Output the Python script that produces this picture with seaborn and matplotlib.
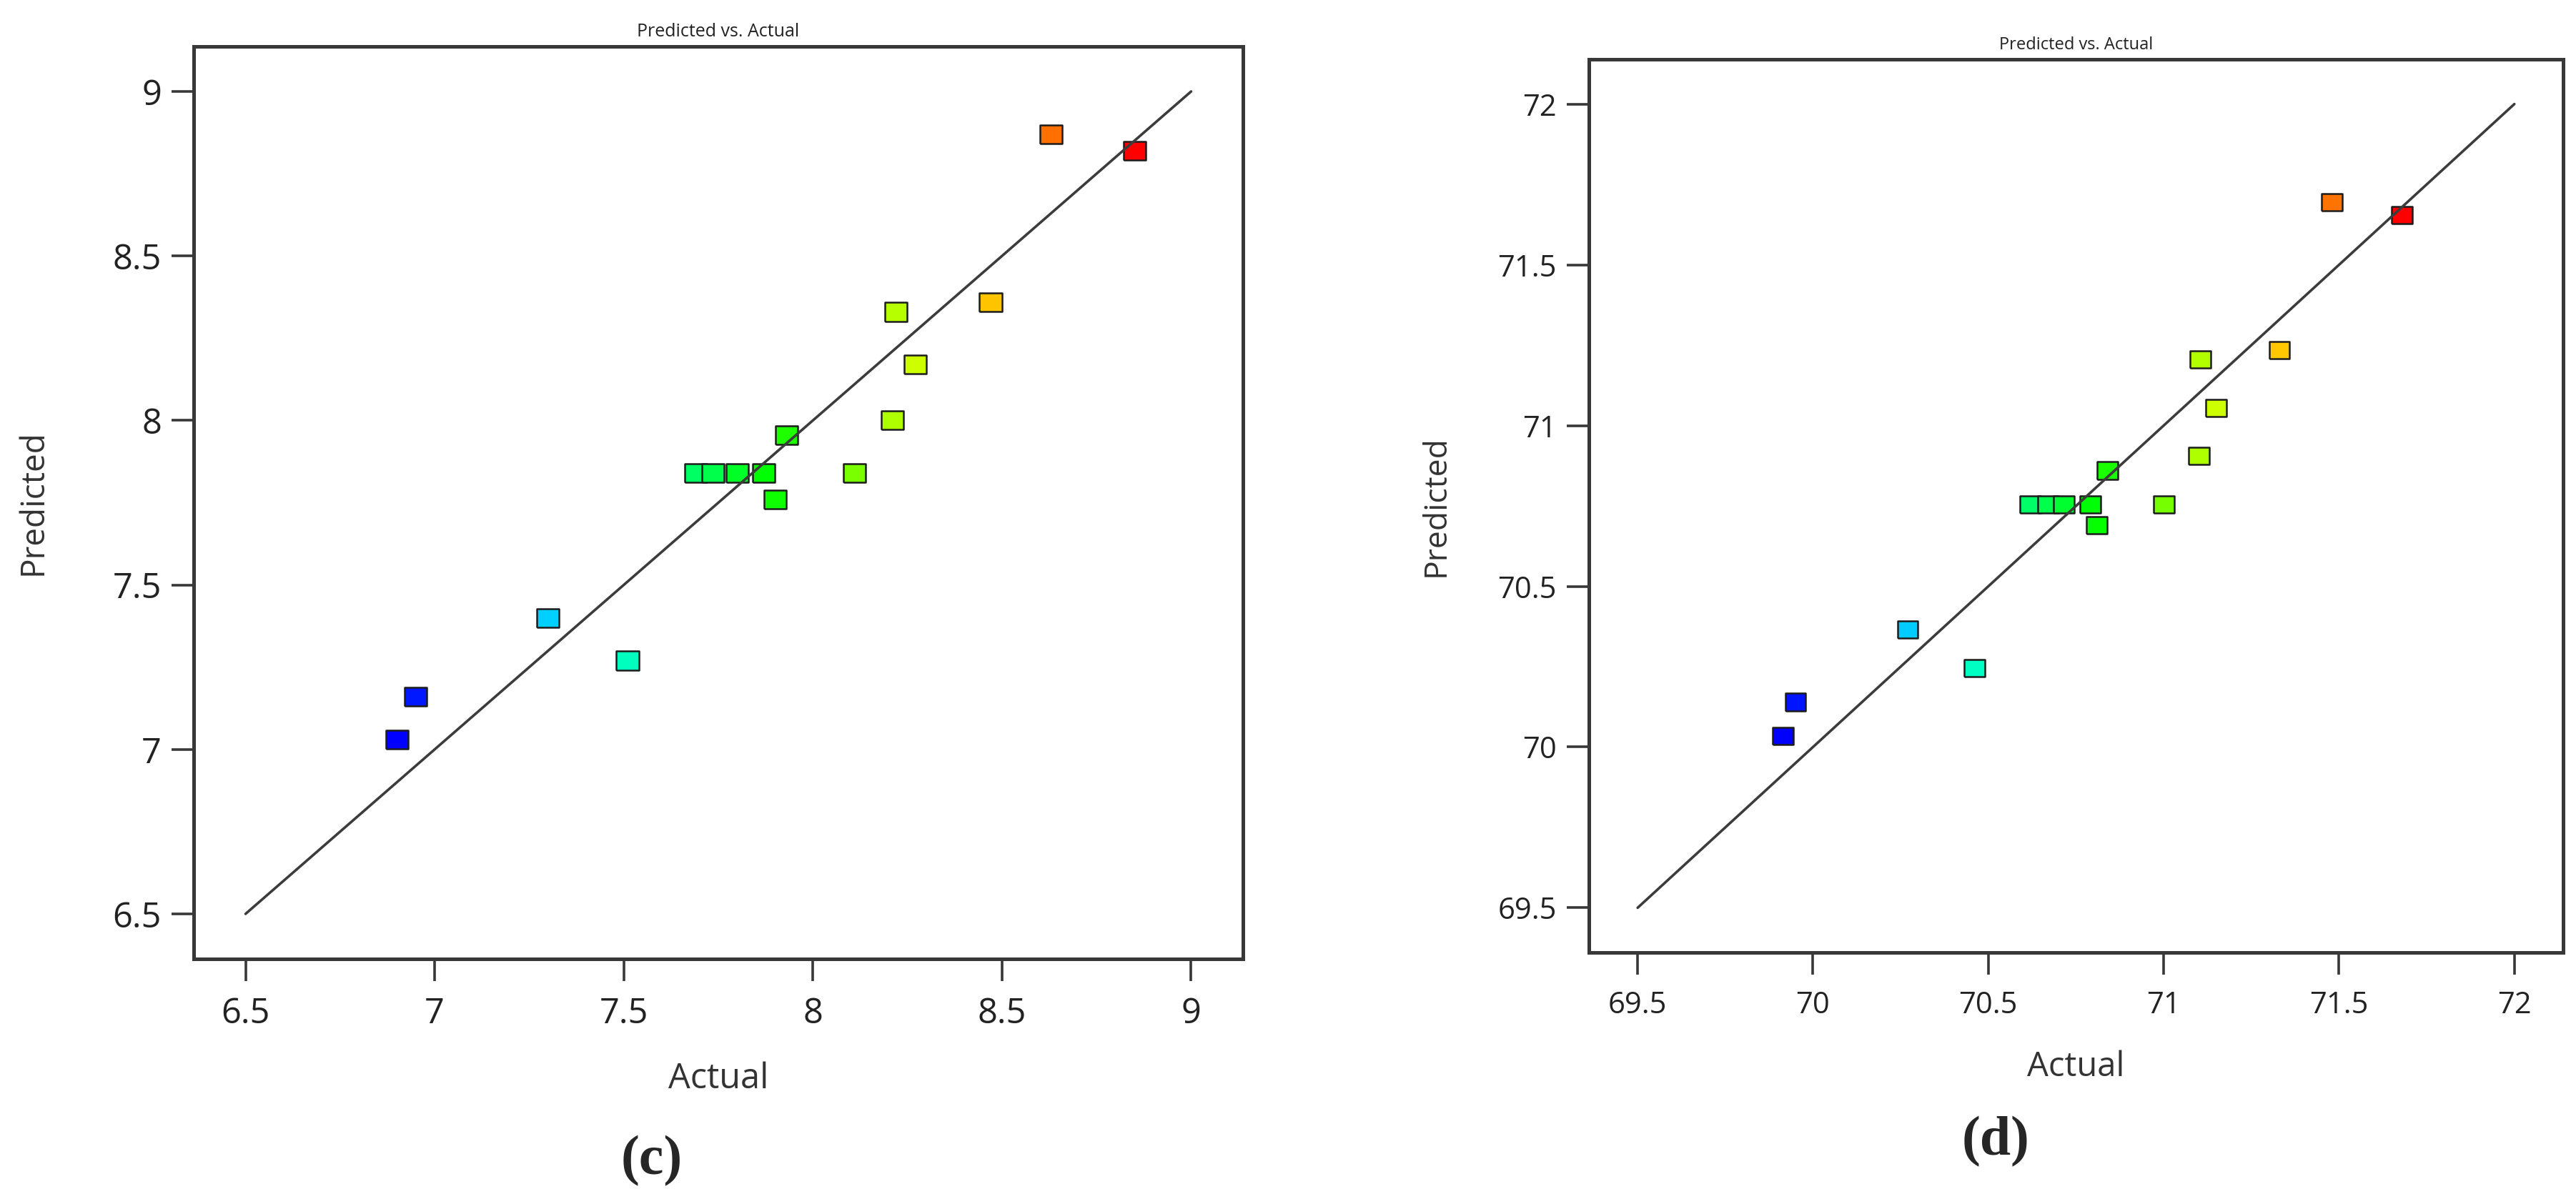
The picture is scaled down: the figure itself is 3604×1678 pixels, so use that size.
import pandas as pd
import matplotlib
matplotlib.use('Agg')
import matplotlib.pyplot as plt
from matplotlib.colors import LinearSegmentedColormap
import seaborn as sns

# panel (c)
actual_c = [6.90, 6.95, 7.30, 7.51, 7.69, 7.735, 7.80, 7.87, 7.90, 7.93, 8.11, 8.21, 8.22, 8.27, 8.47, 8.63, 8.85]
pred_c = [7.03, 7.16, 7.40, 7.27, 7.84, 7.84, 7.84, 7.84, 7.76, 7.955, 7.84, 8.00, 8.33, 8.17, 8.36, 8.87, 8.82]
ticks_c = [6.5, 7, 7.5, 8, 8.5, 9]
labels_c = ['6.5', '7', '7.5', '8', '8.5', '9']
lim_c = (6.363, 9.137)
diag_c = [6.5, 9.0]

# panel (d)
actual_d = [69.915, 69.95, 70.27, 70.46, 70.62, 70.67, 70.715, 70.79, 70.81, 70.84, 71.00, 71.10, 71.105, 71.15, 71.33, 71.48, 71.68]
pred_d = [70.035, 70.14, 70.365, 70.245, 70.755, 70.755, 70.755, 70.755, 70.69, 70.86, 70.755, 70.905, 71.205, 71.055, 71.235, 71.695, 71.655]
ticks_d = [69.5, 70, 70.5, 71, 71.5, 72]
labels_d = ['69.5', '70', '70.5', '71', '71.5', '72']
lim_d = (69.361, 72.139)
diag_d = [69.5, 72.0]

sns.set_style('ticks')
plt.rcParams['font.family'] = ['Open Sans', 'DejaVu Sans']

# blue -> cyan -> green -> yellow -> red, coloured by the actual value
cmap = LinearSegmentedColormap.from_list('rainbow5', ['#0000ff', '#00ffff', '#00ff00', '#ffff00', '#ff0000'])
rect = [(-1, -0.84), (1, -0.84), (1, 0.84), (-1, 0.84), (-1, -0.84)]
ink = '#383838'

fig = plt.figure(figsize=(18.02, 8.39), dpi=200)
ax_c = fig.add_axes([0.0752, 0.2002, 0.4073, 0.7611])
ax_d = fig.add_axes([0.6168, 0.2056, 0.3782, 0.7449])


def panel(ax, actual, pred, ticks, labels, lim, diag, msize, fs_tick, fs_lab, fs_title, ylab_x, xlab_y):
    df = pd.DataFrame({'Actual': actual, 'Predicted': pred})
    sns.scatterplot(data=df, x='Actual', y='Predicted', hue='Actual', palette=cmap,
                    hue_norm=(min(actual), max(actual)), marker=rect, s=msize,
                    edgecolor='#1c1c1c', linewidth=0.9, legend=False, ax=ax, zorder=2)
    ax.plot(diag, diag, color='#3c3c3c', lw=1.3, zorder=3)
    ax.set_xlim(lim)
    ax.set_ylim(lim)
    ax.set_xticks(ticks)
    ax.set_xticklabels(labels)
    ax.set_yticks(ticks)
    ax.set_yticklabels(labels)
    for sp in ax.spines.values():
        sp.set_visible(True)
        sp.set_color(ink)
        sp.set_linewidth(1.8)
    ax.tick_params(axis='both', direction='out', length=11, width=1.3, color=ink,
                   labelsize=fs_tick, labelcolor='#222222')
    ax.tick_params(axis='x', pad=8.0)
    ax.tick_params(axis='y', pad=5.2)
    ax.set_xlabel('Actual', fontsize=fs_lab, color='#333333')
    ax.set_ylabel('Predicted', fontsize=fs_lab - 1, color='#333333')
    ax.xaxis.set_label_coords(0.5, xlab_y)
    ax.yaxis.set_label_coords(ylab_x, 0.5)
    ax.set_title('Predicted vs. Actual', fontsize=fs_title, color='#222222', pad=5)


panel(ax_c, actual_c, pred_c, ticks_c, labels_c, lim_c, diag_c, 125, 17.5, 17.5, 9, -0.1376, -0.112)
panel(ax_d, actual_d, pred_d, ticks_d, labels_d, lim_d, diag_d, 108, 15, 17, 8.5, -0.140, -0.109)

fig.text(912 / 3604, 1 - 1625 / 1678, '(c)', fontsize=28, fontweight='bold',
         family='Liberation Serif', ha='center', va='center')
fig.text(2792 / 3604, 1 - 1598 / 1678, '(d)', fontsize=28, fontweight='bold',
         family='Liberation Serif', ha='center', va='center')

fig.savefig('out.png', dpi=200, facecolor='white')
